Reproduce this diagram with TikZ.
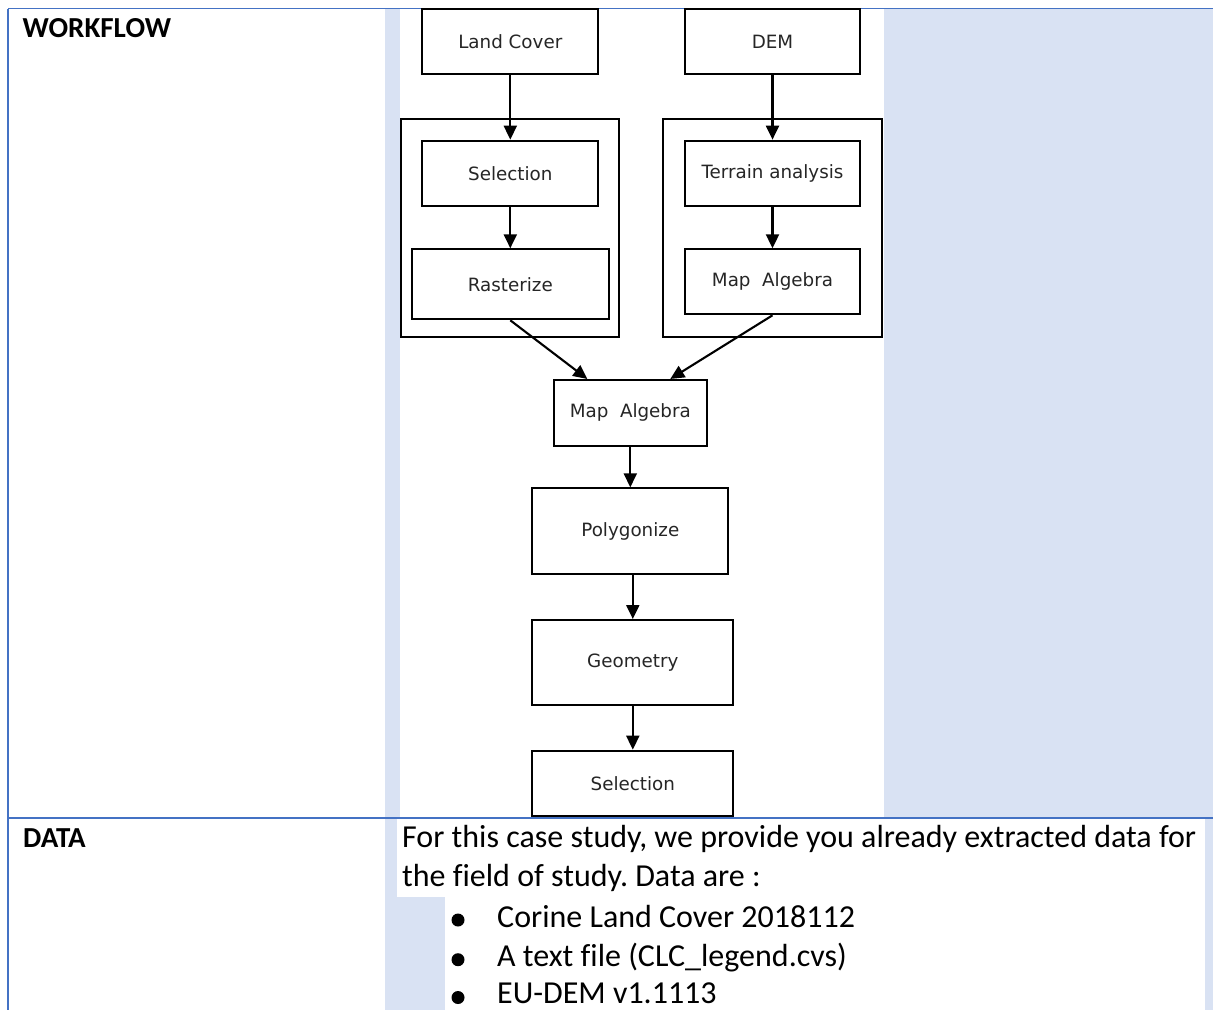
\documentclass[tikz,border=0pt]{standalone}
\usepackage{fontspec}
\setmainfont{Carlito}[Ligatures=NoCommon]
\newfontfamily\dvfont{DejaVu Sans}
\usetikzlibrary{arrows.meta,calc}
\definecolor{tblue}{HTML}{4472C4}
\definecolor{cellblue}{HTML}{D9E2F3}
\frenchspacing
\begin{document}
\begin{tikzpicture}[x=1pt,y=-1pt,
  box/.style={draw=black,line width=2pt,fill=white,inner sep=0pt,
    font=\dvfont\fontsize{18.3}{20}\selectfont,text=black!85},
  grp/.style={draw=black,line width=2pt,inner sep=0pt},
  flow/.style={line width=2.1pt,-{Triangle[length=14pt,width=13pt]}},
  lbl/.style={anchor=base west,inner sep=0pt,font=\fontsize{29}{34}\selectfont\bfseries},
  body/.style={anchor=base west,inner sep=0pt,font=\fontsize{32}{38}\selectfont},
  bord/.style={tblue,line width=1.6pt}]
\useasboundingbox (0,0) rectangle (1213,1010);
% backgrounds
\fill[white] (0,0) rectangle (1213,1010);
\fill[cellblue] (385,8.5) rectangle (1213,1010);
\fill[white] (400,9) rectangle (884,818);
\fill[white] (397,819) rectangle (1205,897);
\fill[white] (445,897) rectangle (1205,1010);
% table borders
\draw[bord] (8,8.5) -- (1213,8.5);
\draw[bord] (8,8.5) -- (8,1010);
\draw[bord] (8,818) -- (1213,818);
% labels
\node[lbl] (wf) at (22.5,37) {WORKFLOW};
\node[lbl] (data) at (23,847) {DATA};
\node[body] (t1) at (402,847.3) {For this case study, we provide you already extracted data for};
\node[body] (t2) at (402,886.7) {the field of study. Data are :};
\node[body] (b1) at (497,927) {Corine Land Cover 2018112};
\node[body] (b2) at (497,966.7) {A text file (CLC\_legend.cvs)};
\node[body] (b3) at (497,1003.5) {EU-DEM v1.1113};
\fill (458,920) circle (6.5pt);
\fill (458,959.7) circle (6.5pt);
\fill (458,997.5) circle (6.5pt);
% flowchart clusters
\node[grp,minimum width=218.3pt,minimum height=217.7pt] (grpL) at (510.15,227.85) {};
\node[grp,minimum width=218.4pt,minimum height=217.7pt] (grpR) at (772.5,227.85) {};
% flowchart boxes
\node[box,minimum width=176pt,minimum height=64.7pt] (lc) at (510.3,41.7) {Land Cover};
\node[box,minimum width=175pt,minimum height=64.7pt] (dem) at (772.5,41.7) {DEM};
\node[box,minimum width=176pt,minimum height=65.3pt] (sel1) at (510.3,173.3) {Selection};
\node[box,minimum width=197.3pt,minimum height=70pt] (ras) at (510.3,284.3) {Rasterize};
\node[box,minimum width=175pt,minimum height=65.3pt] (ter) at (772.5,173.3) {Terrain analysis};
\node[box,minimum width=175pt,minimum height=65pt] (ma1) at (772.5,281.8) {Map~~Algebra};
\node[box,minimum width=152.7pt,minimum height=65.7pt] (ma2) at (630.3,412.8) {Map~~Algebra};
\node[box,minimum width=196pt,minimum height=85.7pt] (poly) at (630.3,531.2) {Polygonize};
\node[box,minimum width=201pt,minimum height=85pt] (geo) at (632.8,662.5) {Geometry};
\node[box,minimum width=201pt,minimum height=65.3pt] (sel2) at (632.8,783.3) {Selection};
% connectors
\draw[flow] (lc.south) -- (sel1.north);
\draw[flow] (sel1.south) -- (ras.north);
\draw[flow] (dem.south) -- (ter.north);
\draw[flow] (ter.south) -- (ma1.north);
\draw[flow] (ras.south) -- ([xshift=-43pt]ma2.north);
\draw[flow] (ma1.south) -- ([xshift=40pt]ma2.north);
\draw[flow] (ma2.south) -- (poly.north);
\draw[flow] (geo.north |- poly.south) -- (geo.north);
\draw[flow] (geo.south) -- (sel2.north);
\end{tikzpicture}
\end{document}
